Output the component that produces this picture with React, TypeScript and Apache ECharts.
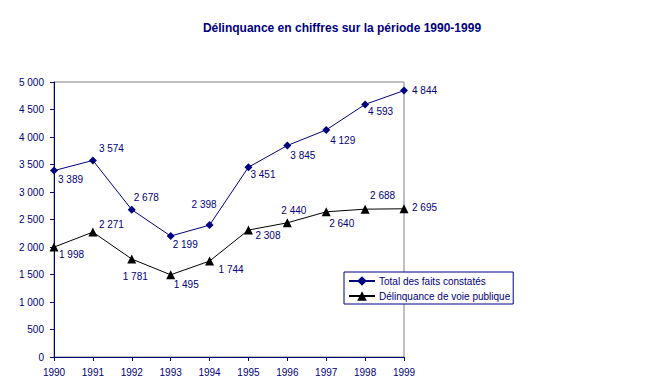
import React, { useEffect, useRef } from "react";
import * as echarts from "echarts";

const years = ["1990", "1991", "1992", "1993", "1994", "1995", "1996", "1997", "1998", "1999"];
const totalFaits = [3389, 3574, 2678, 2199, 2398, 3451, 3845, 4129, 4593, 4844];
const voiePublique = [1998, 2271, 1781, 1495, 1744, 2308, 2440, 2640, 2688, 2695];
const seriesNames = ["Total des faits constatés", "Délinquance de voie publique"];
const titleText = "Délinquance en chiffres sur la période 1990-1999";

// label offsets (styling): [dx, dy] from the point to the label's left/middle
const totalOffsets = [[4, 9], [6, -12], [2, -12], [2, 8], [-18, -21], [2, 7], [3, 10], [4, 11], [3, 7], [8, 0]];
const voieOffsets = [[5, 7], [6, -8], [-9, 17], [3, 10], [9, 8], [7, 5], [-6, -12], [3, 12], [5, -14], [8, -1]];

const NAVY = "#000080";
const FONT = "'Liberation Sans', Arial, sans-serif";

const fmt = (v: number) => String(v).replace(/\B(?=(\d{3})+(?!\d))/g, " ");

export default function App() {
  const ref = useRef<HTMLDivElement>(null);
  useEffect(() => {
    if (!ref.current) return;
    const chart = echarts.init(ref.current, undefined, { renderer: "svg" });
    const mkData = (vals: number[], offs: number[][]) =>
      vals.map((v, i) => ({
        value: v,
        label: { offset: offs[i] },
      }));
    const labelBase = {
      show: true,
      position: "inside" as const,
      align: "left" as const,
      verticalAlign: "middle" as const,
      color: NAVY,
      fontFamily: FONT,
      fontSize: 10,
      formatter: (p: any) => fmt(p.value),
    };
    chart.setOption({
      animation: false,
      backgroundColor: "#ffffff",
      title: {
        text: titleText,
        left: 337,
        top: 17,
        textAlign: "center",
        textStyle: { color: NAVY, fontFamily: FONT, fontSize: 12, fontWeight: "bold" },
      },
      legend: {
        orient: "vertical",
        left: 344,
        top: 272,
        padding: [4, 3, 3, 4],
        itemGap: 5,
        itemWidth: 26,
        itemHeight: 12,
        backgroundColor: "#ffffff",
        borderColor: NAVY,
        borderWidth: 1,
        borderRadius: 0,
        textStyle: { color: NAVY, fontFamily: FONT, fontSize: 10, padding: [0, 0, 0, -1] },
        data: seriesNames,
      },
      grid: {
        left: 54,
        right: 241,
        top: 82,
        bottom: 31,
        show: true,
        borderColor: "#808080",
        borderWidth: 1,
        containLabel: false,
      },
      xAxis: {
        type: "category",
        data: years,
        boundaryGap: false,
        axisLine: { lineStyle: { color: NAVY, width: 1 } },
        axisTick: { show: true, length: 4, alignWithLabel: true, lineStyle: { color: NAVY } },
        axisLabel: { color: NAVY, fontFamily: FONT, fontSize: 10, margin: 10 },
        splitLine: { show: false },
      },
      yAxis: {
        type: "value",
        min: 0,
        max: 5000,
        interval: 500,
        axisLine: { show: true, lineStyle: { color: NAVY, width: 1 } },
        axisTick: { show: true, length: 4, lineStyle: { color: NAVY } },
        axisLabel: { color: NAVY, fontFamily: FONT, fontSize: 10, margin: 10, formatter: (v: number) => fmt(v) },
        splitLine: { show: false },
      },
      series: [
        {
          name: seriesNames[0],
          type: "line",
          data: mkData(totalFaits, totalOffsets),
          symbol: "diamond",
          symbolSize: 8,
          lineStyle: { color: NAVY, width: 1 },
          itemStyle: { color: NAVY },
          label: labelBase,
        },
        {
          name: seriesNames[1],
          type: "line",
          data: mkData(voiePublique, voieOffsets),
          symbol: "triangle",
          symbolSize: 9,
          lineStyle: { color: "#000000", width: 1 },
          itemStyle: { color: "#000000" },
          label: labelBase,
        },
      ],
    });
    return () => chart.dispose();
  }, []);
  return <div ref={ref} style={{ position: "fixed", left: 0, top: 0, width: 645, height: 388 }} />;
}
